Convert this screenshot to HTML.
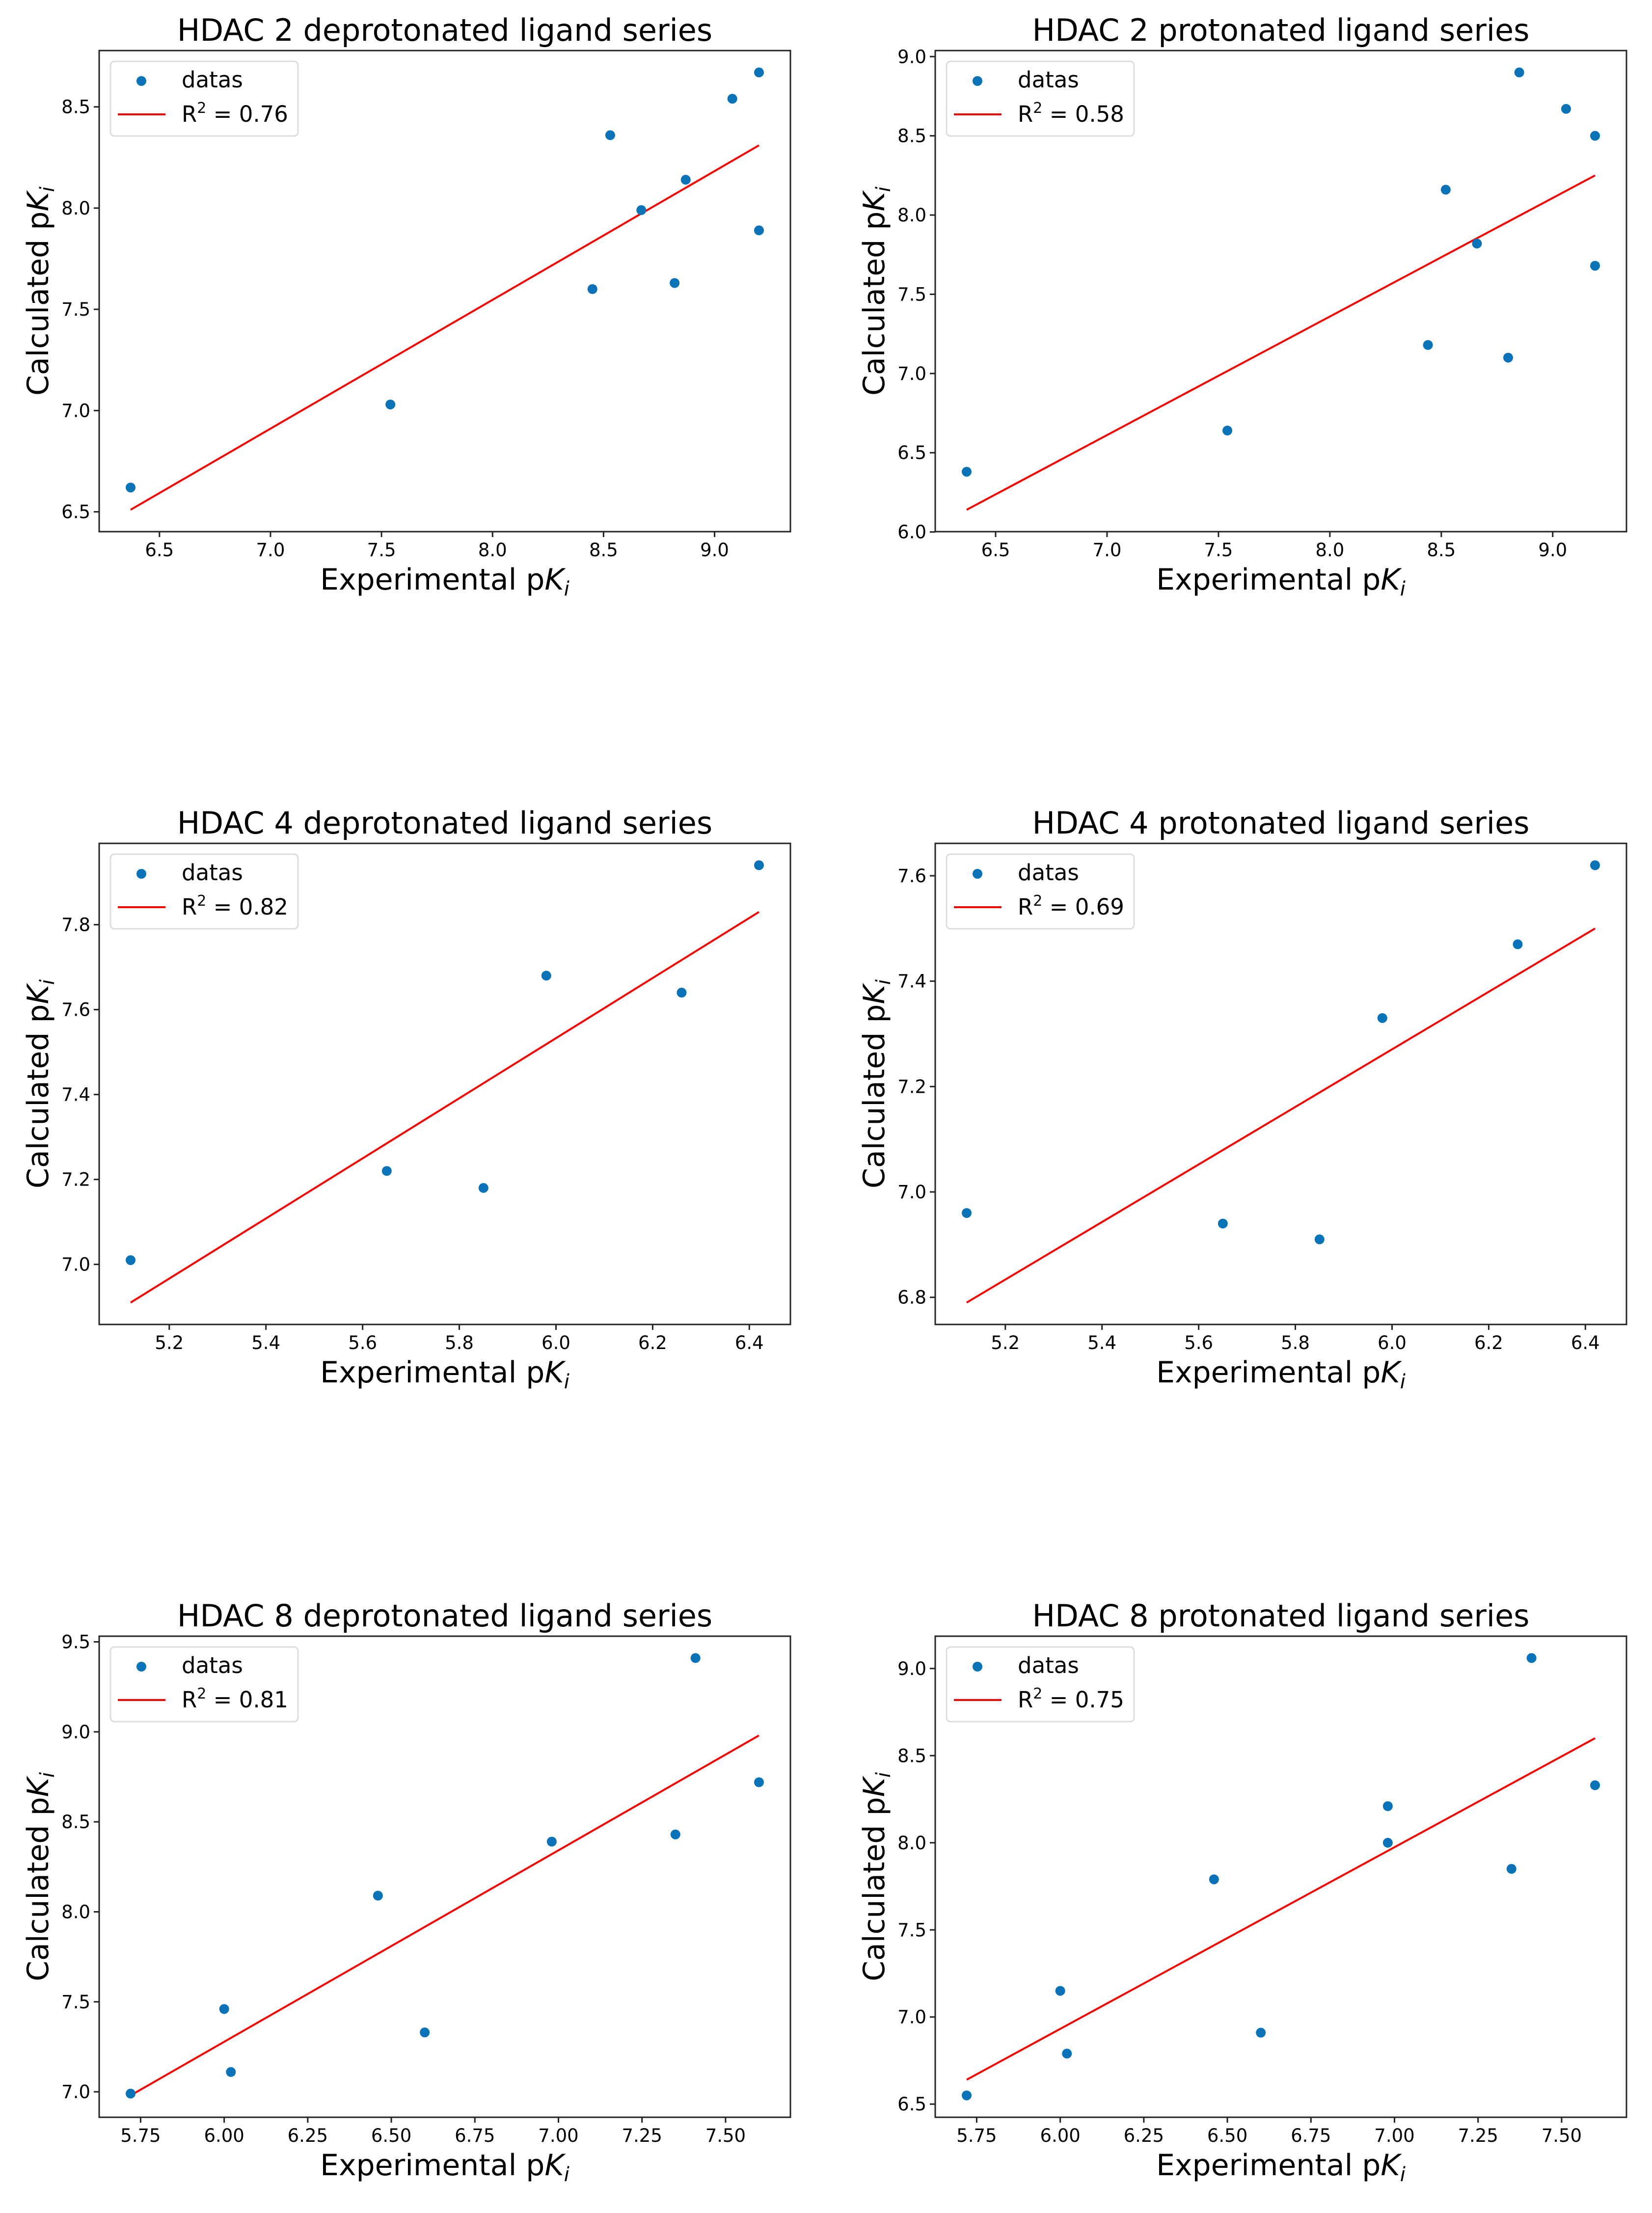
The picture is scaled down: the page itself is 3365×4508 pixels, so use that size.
<!DOCTYPE html>
<html><head><meta charset="utf-8">
<style>
html,body{margin:0;padding:0;background:#fff;}
svg{display:block;font-family:"DejaVu Sans","Liberation Sans",sans-serif;}
</style></head>
<body>
<svg id="fig" width="3365" height="4508" viewBox="0 0 3365 4508" xmlns="http://www.w3.org/2000/svg"></svg>
<script>
// ---- Chart data ----
const titles = ["HDAC 2 deprotonated ligand series","HDAC 2 protonated ligand series","HDAC 4 deprotonated ligand series","HDAC 4 protonated ligand series","HDAC 8 deprotonated ligand series","HDAC 8 protonated ligand series"];
const r2Labels = ["0.76","0.58","0.82","0.69","0.81","0.75"];

const expX1 = [6.37,7.54,8.45,8.53,8.67,8.82,8.87,9.08,9.20,9.20];
const calcY1 = [6.62,7.03,7.60,8.36,7.99,7.63,8.14,8.54,8.67,7.89];
const fitX1 = [6.37,9.20];
const fitY1 = [6.51,8.31];
const xTicks1 = [6.5,7.0,7.5,8.0,8.5,9.0];
const yTicks1 = [6.5,7.0,7.5,8.0,8.5];

const expX2 = [6.37,7.54,8.44,8.52,8.66,8.80,8.85,9.06,9.19,9.19];
const calcY2 = [6.38,6.64,7.18,8.16,7.82,7.10,8.90,8.67,8.50,7.68];
const fitX2 = [6.37,9.19];
const fitY2 = [6.14,8.25];
const xTicks2 = [6.5,7.0,7.5,8.0,8.5,9.0];
const yTicks2 = [6.0,6.5,7.0,7.5,8.0,8.5,9.0];

const expX3 = [5.12,5.65,5.85,5.98,6.26,6.42];
const calcY3 = [7.01,7.22,7.18,7.68,7.64,7.94];
const fitX3 = [5.12,6.42];
const fitY3 = [6.91,7.83];
const xTicks3 = [5.2,5.4,5.6,5.8,6.0,6.2,6.4];
const yTicks3 = [7.0,7.2,7.4,7.6,7.8];

const expX4 = [5.12,5.65,5.85,5.98,6.26,6.42];
const calcY4 = [6.96,6.94,6.91,7.33,7.47,7.62];
const fitX4 = [5.12,6.42];
const fitY4 = [6.79,7.50];
const xTicks4 = [5.2,5.4,5.6,5.8,6.0,6.2,6.4];
const yTicks4 = [6.8,7.0,7.2,7.4,7.6];

const expX5 = [5.72,6.00,6.02,6.46,6.60,6.98,7.35,7.41,7.60];
const calcY5 = [6.99,7.46,7.11,8.09,7.33,8.39,8.43,9.41,8.72];
const fitX5 = [5.72,7.60];
const fitY5 = [6.98,8.98];
const xTicks5 = [5.75,6.00,6.25,6.50,6.75,7.00,7.25,7.50];
const yTicks5 = [7.0,7.5,8.0,8.5,9.0,9.5];

const expX6 = [5.72,6.00,6.02,6.46,6.60,6.98,6.98,7.35,7.41,7.60];
const calcY6 = [6.55,7.15,6.79,7.79,6.91,8.21,8.00,7.85,9.06,8.33];
const fitX6 = [5.72,7.60];
const fitY6 = [6.64,8.60];
const xTicks6 = [5.75,6.00,6.25,6.50,6.75,7.00,7.25,7.50];
const yTicks6 = [6.5,7.0,7.5,8.0,8.5,9.0];

const xTickDec = [1,1,1,1,2,2];
const yTickDec = [1,1,1,1,1,1];

const NS = "http://www.w3.org/2000/svg";
const svg = document.getElementById("fig");
function mk(tag, attrs, parent){
  const e = document.createElementNS(NS, tag);
  for (const k in attrs) e.setAttribute(k, attrs[k]);
  (parent||svg).appendChild(e);
  return e;
}

const colLeft = [202, 1905];
const rowTop = [103, 1718, 3333];
const W = 1408, H = 980;

const sets = [
 [expX1,calcY1,fitX1,fitY1,xTicks1,yTicks1],
 [expX2,calcY2,fitX2,fitY2,xTicks2,yTicks2],
 [expX3,calcY3,fitX3,fitY3,xTicks3,yTicks3],
 [expX4,calcY4,fitX4,fitY4,xTicks4,yTicks4],
 [expX5,calcY5,fitX5,fitY5,xTicks5,yTicks5],
 [expX6,calcY6,fitX6,fitY6,xTicks6,yTicks6]
];

sets.forEach((s, i) => {
  const [xs, ys, fx, fy, xt, yt] = s;
  const L = colLeft[i%2], T = rowTop[Math.floor(i/2)];
  const g = mk("g", {});
  
  
  // limits: data + fit with 5% margins
  const ax = xs.concat(fx), ay = ys.concat(fy);
  let x0 = Math.min(...ax), x1 = Math.max(...ax), y0 = Math.min(...ay), y1 = Math.max(...ay);
  const mx = (x1-x0)*0.05, my = (y1-y0)*0.05;
  x0 -= mx; x1 += mx; y0 -= my; y1 += my;
  const sx = v => L + (v - x0) / (x1 - x0) * W;
  const sy = v => T + H - (v - y0) / (y1 - y0) * H;

  // title
  const t = mk("text", {x: L + W/2, y: T - 20, "text-anchor": "middle", "font-size": 62, fill: "#000"}, g);
  t.textContent = titles[i];
  
  

  // fit line
  const ln = mk("line", {x1: sx(fx[0]), y1: sy(fy[0]), x2: sx(fx[1]), y2: sy(fy[1]), stroke: "#ff0000", "stroke-width": 4}, g);
  
  

  // points
  xs.forEach((xv, k) => {
    const c = mk("circle", {cx: sx(xv), cy: sy(ys[k]), r: 10, fill: "#0a73b8"}, g);
    
    
  });

  // axes frame
  const fr = mk("rect", {x: L, y: T, width: W, height: H, fill: "none", stroke: "#222", "stroke-width": 3}, g);
  
  

  // x ticks
  xt.forEach(v => {
    const px = sx(v);
    mk("line", {x1: px, y1: T+H, x2: px, y2: T+H+11, stroke: "#222", "stroke-width": 3}, g);
    const tl = mk("text", {x: px, y: T+H+50, "text-anchor": "middle", "font-size": 37, fill: "#000"}, g);
    tl.textContent = v.toFixed(xTickDec[i]);
    
    
  });
  // y ticks
  yt.forEach(v => {
    const py = sy(v);
    mk("line", {x1: L-11, y1: py, x2: L, y2: py, stroke: "#222", "stroke-width": 3}, g);
    const tl = mk("text", {x: L-18, y: py+13, "text-anchor": "end", "font-size": 37, fill: "#000"}, g);
    tl.textContent = v.toFixed(yTickDec[i]);
    
    
  });

  // axis labels
  const xl = mk("text", {x: L + W/2, y: T+H+118, "text-anchor": "middle", "font-size": 60, fill: "#000"}, g);
  xl.innerHTML = 'Experimental p<tspan font-style="italic">K</tspan><tspan font-style="italic" font-size="40" dy="12">i</tspan>';
  
  
  const yl = mk("text", {x: 0, y: 0, "text-anchor": "middle", "font-size": 60, fill: "#000", transform: `translate(${L-104},${T+H/2}) rotate(-90)`}, g);
  yl.innerHTML = 'Calculated p<tspan font-style="italic">K</tspan><tspan font-style="italic" font-size="40" dy="12">i</tspan>';
  
  

  // legend
  const lg = mk("g", {}, g);
  
  
  mk("rect", {x: L+23, y: T+22, width: 382, height: 152, rx: 8, fill: "#fff", "fill-opacity": 0.9, stroke: "#ddd", "stroke-width": 3}, lg);
  mk("circle", {cx: L+86, cy: T+62, r: 10, fill: "#0a73b8"}, lg);
  const d = mk("text", {x: L+168, y: T+75, "font-size": 45, fill: "#000"}, lg);
  d.textContent = "datas";
  
  
  mk("line", {x1: L+38, y1: T+130, x2: L+135, y2: T+130, stroke: "#ff0000", "stroke-width": 4}, lg);
  const r = mk("text", {x: L+168, y: T+145, "font-size": 45, fill: "#000"}, lg);
  r.innerHTML = 'R<tspan font-size="30" dy="-18">2</tspan><tspan dy="18"> = ' + r2Labels[i] + '</tspan>';
  
  
});
</script>
</body></html>
